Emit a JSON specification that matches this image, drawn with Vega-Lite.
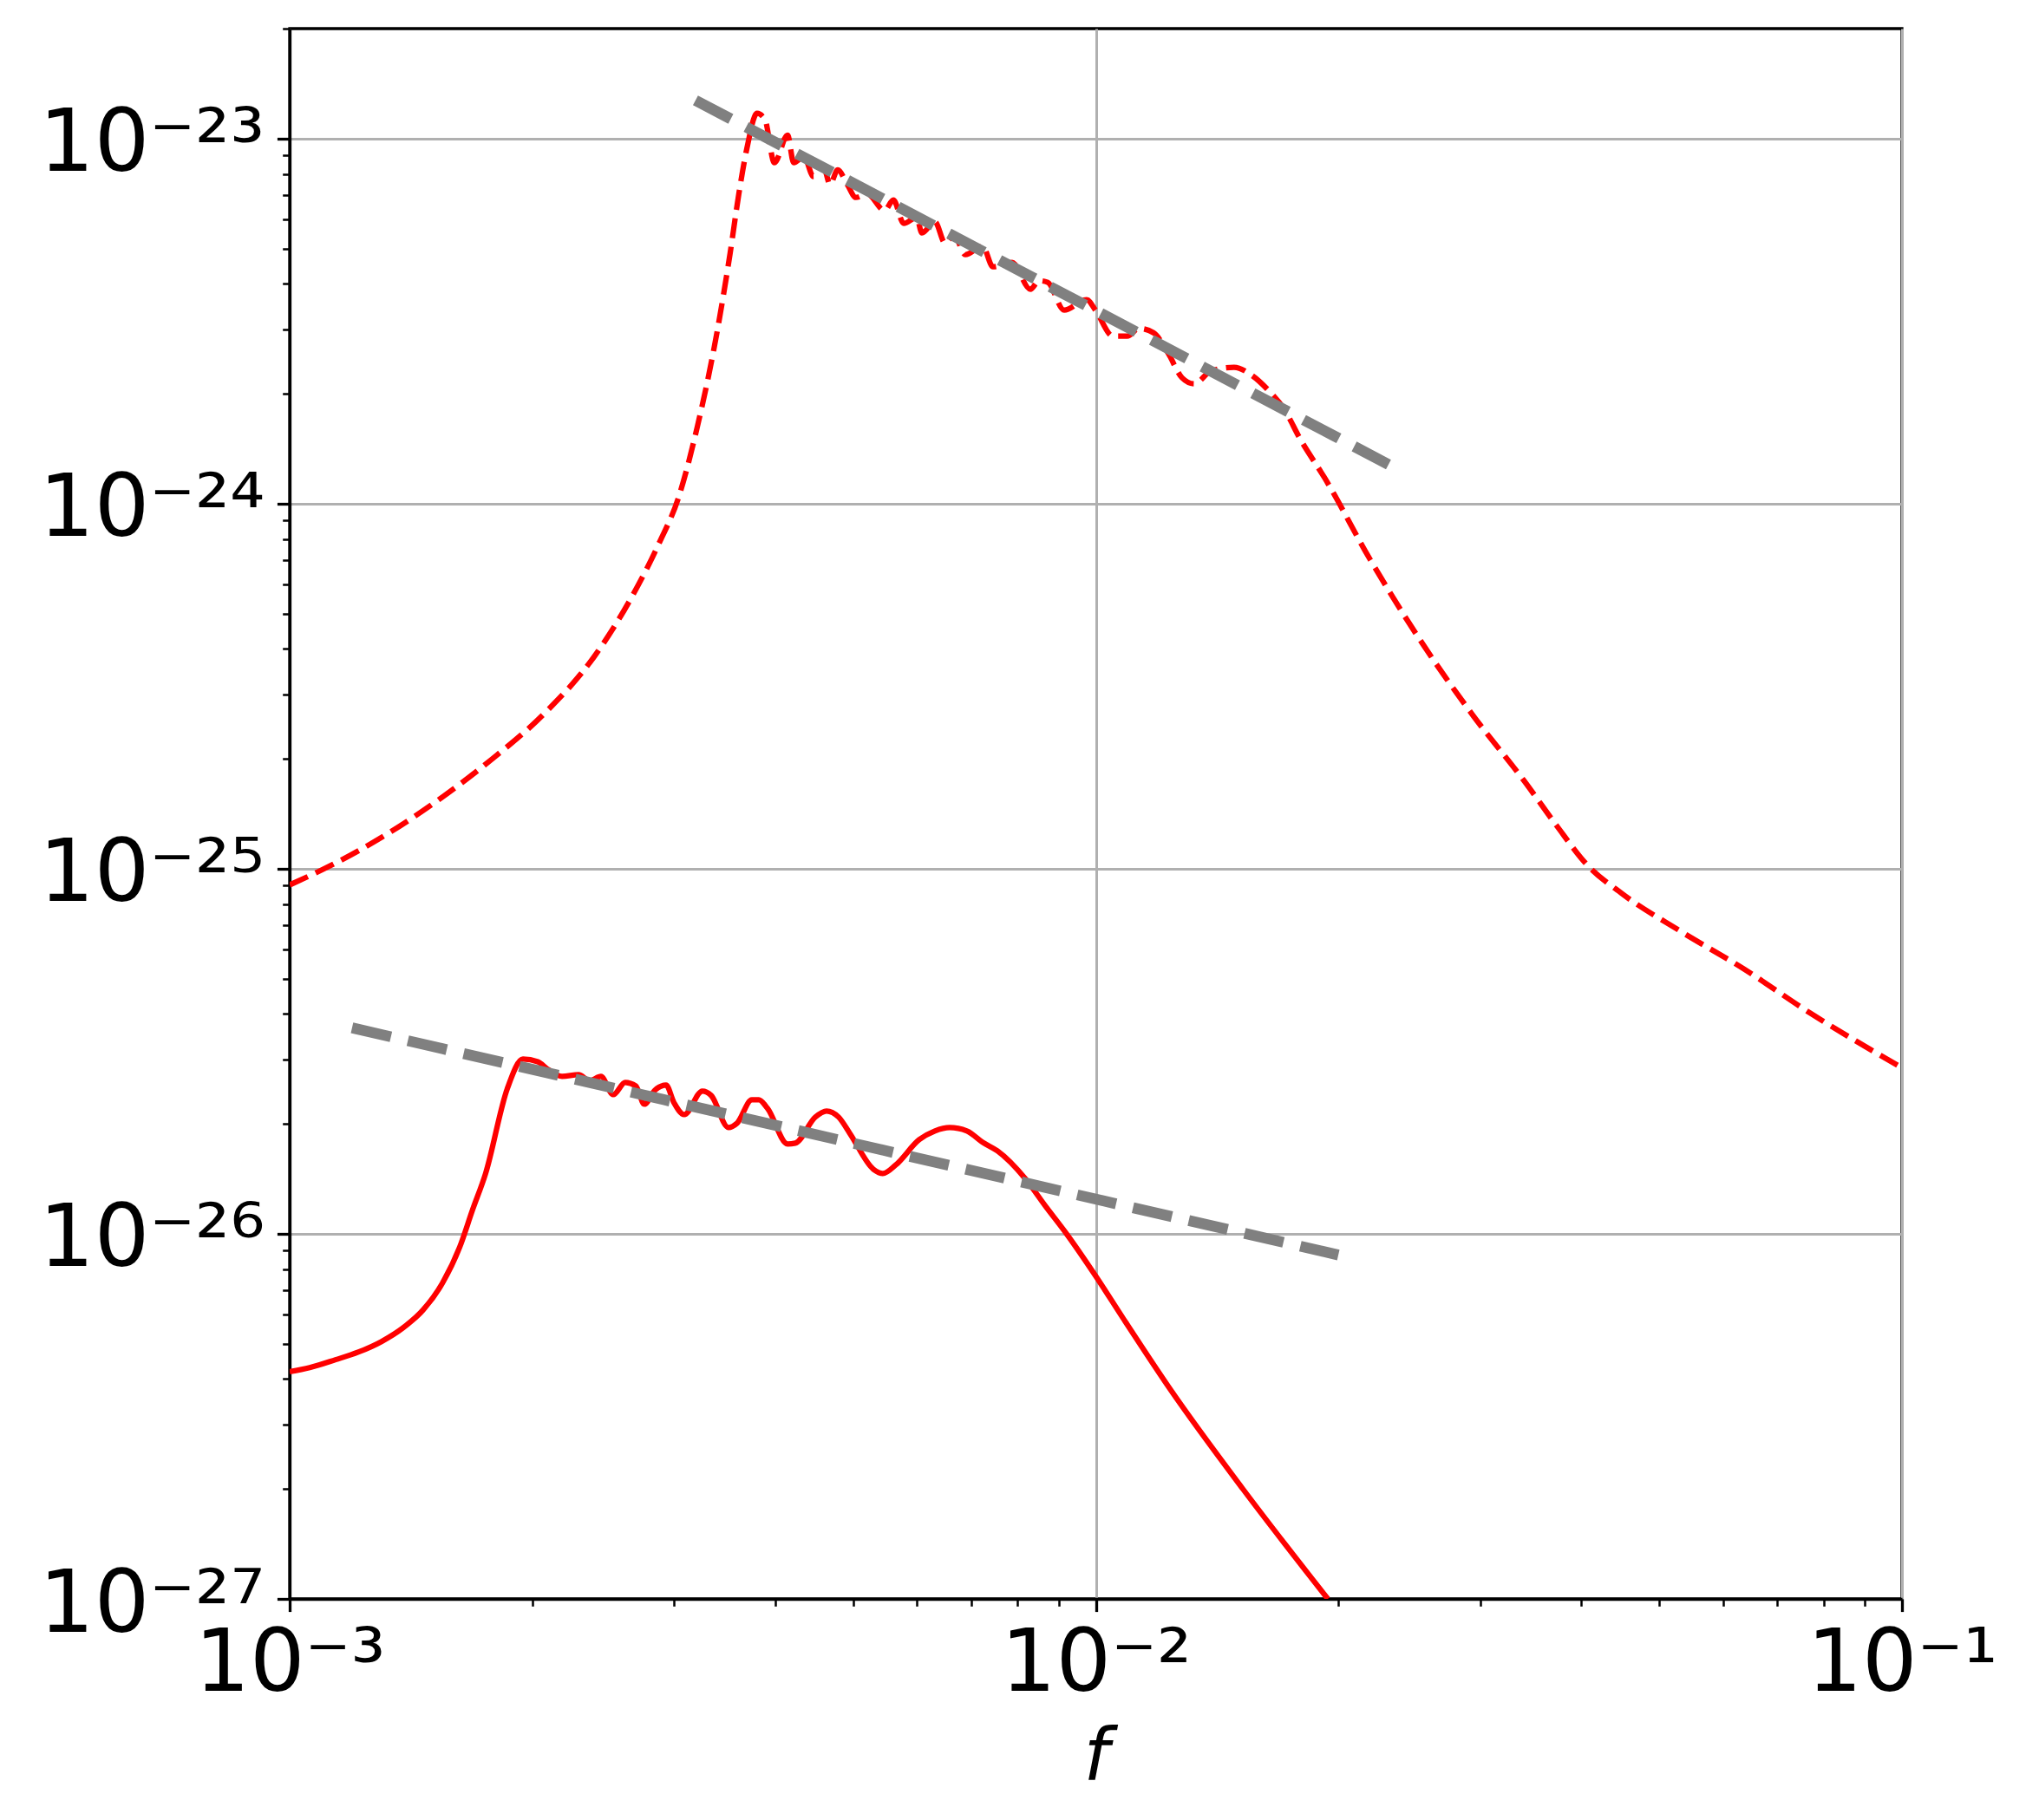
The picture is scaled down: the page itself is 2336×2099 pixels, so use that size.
{
  "$schema": "https://vega.github.io/schema/vega-lite/v6.json",
  "width": 1859,
  "height": 1811,
  "autosize": {"type": "none"},
  "padding": {"left": 334, "top": 33, "right": 143, "bottom": 255},
  "background": "white",
  "config": {
    "font": "DejaVu Sans",
    "view": {"stroke": "black", "strokeWidth": 3.3}
  },
  "datasets": {
    "upper": [
      {"f": 1.000e-3, "h": 9.03e-26},
      {"f": 1.140e-3, "h": 1.036e-25},
      {"f": 1.323e-3, "h": 1.247e-25},
      {"f": 1.535e-3, "h": 1.552e-25},
      {"f": 1.776e-3, "h": 1.984e-25},
      {"f": 2.061e-3, "h": 2.637e-25},
      {"f": 2.385e-3, "h": 3.804e-25},
      {"f": 2.667e-3, "h": 5.637e-25},
      {"f": 2.872e-3, "h": 7.785e-25},
      {"f": 3.034e-3, "h": 1.034e-24},
      {"f": 3.203e-3, "h": 1.620e-24},
      {"f": 3.393e-3, "h": 2.987e-24},
      {"f": 3.519e-3, "h": 4.86e-24},
      {"f": 3.607e-3, "h": 7.048e-24},
      {"f": 3.690e-3, "h": 9.365e-24},
      {"f": 3.800e-3, "h": 1.172e-23},
      {"f": 3.886e-3, "h": 1.128e-23},
      {"f": 3.993e-3, "h": 8.582e-24},
      {"f": 4.146e-3, "h": 1.022e-23},
      {"f": 4.219e-3, "h": 8.582e-24},
      {"f": 4.345e-3, "h": 8.917e-24},
      {"f": 4.465e-3, "h": 7.862e-24},
      {"f": 4.599e-3, "h": 8.303e-24},
      {"f": 4.680e-3, "h": 7.484e-24},
      {"f": 4.785e-3, "h": 8.21e-24},
      {"f": 4.917e-3, "h": 7.484e-24},
      {"f": 5.040e-3, "h": 6.896e-24},
      {"f": 5.205e-3, "h": 7.048e-24},
      {"f": 5.470e-3, "h": 6.354e-24},
      {"f": 5.608e-3, "h": 6.786e-24},
      {"f": 5.777e-3, "h": 5.854e-24},
      {"f": 5.995e-3, "h": 6.081e-24},
      {"f": 6.085e-3, "h": 5.511e-24},
      {"f": 6.315e-3, "h": 5.919e-24},
      {"f": 6.505e-3, "h": 5.161e-24},
      {"f": 6.669e-3, "h": 5.451e-24},
      {"f": 6.887e-3, "h": 4.807e-24},
      {"f": 7.237e-3, "h": 5.077e-24},
      {"f": 7.455e-3, "h": 4.453e-24},
      {"f": 7.873e-3, "h": 4.576e-24},
      {"f": 8.294e-3, "h": 3.864e-24},
      {"f": 8.502e-3, "h": 4.080e-24},
      {"f": 8.716e-3, "h": 4.036e-24},
      {"f": 9.136e-3, "h": 3.388e-24},
      {"f": 9.743e-3, "h": 3.618e-24},
      {"f": 9.990e-3, "h": 3.388e-24},
      {"f": 1.050e-2, "h": 2.875e-24},
      {"f": 1.094e-2, "h": 2.875e-24},
      {"f": 1.131e-2, "h": 3.020e-24},
      {"f": 1.179e-2, "h": 2.938e-24},
      {"f": 1.230e-2, "h": 2.577e-24},
      {"f": 1.279e-2, "h": 2.212e-24},
      {"f": 1.324e-2, "h": 2.129e-24},
      {"f": 1.391e-2, "h": 2.311e-24},
      {"f": 1.484e-2, "h": 2.362e-24},
      {"f": 1.560e-2, "h": 2.249e-24},
      {"f": 1.639e-2, "h": 2.038e-24},
      {"f": 1.709e-2, "h": 1.827e-24},
      {"f": 1.796e-2, "h": 1.492e-24},
      {"f": 1.921e-2, "h": 1.179e-24},
      {"f": 2.190e-2, "h": 7.019e-25},
      {"f": 2.535e-2, "h": 4.174e-25},
      {"f": 2.934e-2, "h": 2.637e-25},
      {"f": 3.404e-2, "h": 1.732e-25},
      {"f": 3.731e-2, "h": 1.31e-25},
      {"f": 4.059e-2, "h": 1.03e-25},
      {"f": 4.493e-2, "h": 8.55e-26},
      {"f": 5.302e-2, "h": 6.76e-26},
      {"f": 6.370e-2, "h": 5.31e-26},
      {"f": 7.672e-2, "h": 4.04e-26},
      {"f": 1.000e-1, "h": 2.85e-26}
    ],
    "lower": [
      {"f": 1.000e-3, "h": 4.19e-27},
      {"f": 1.059e-3, "h": 4.30e-27},
      {"f": 1.140e-3, "h": 4.52e-27},
      {"f": 1.216e-3, "h": 4.74e-27},
      {"f": 1.300e-3, "h": 5.07e-27},
      {"f": 1.383e-3, "h": 5.53e-27},
      {"f": 1.465e-3, "h": 6.20e-27},
      {"f": 1.546e-3, "h": 7.31e-27},
      {"f": 1.625e-3, "h": 9.19e-27},
      {"f": 1.686e-3, "h": 1.163e-26},
      {"f": 1.750e-3, "h": 1.463e-26},
      {"f": 1.862e-3, "h": 2.499e-26},
      {"f": 1.947e-3, "h": 3.010e-26},
      {"f": 2.031e-3, "h": 2.961e-26},
      {"f": 2.092e-3, "h": 2.818e-26},
      {"f": 2.177e-3, "h": 2.698e-26},
      {"f": 2.282e-3, "h": 2.728e-26},
      {"f": 2.356e-3, "h": 2.626e-26},
      {"f": 2.433e-3, "h": 2.698e-26},
      {"f": 2.519e-3, "h": 2.405e-26},
      {"f": 2.608e-3, "h": 2.598e-26},
      {"f": 2.687e-3, "h": 2.541e-26},
      {"f": 2.754e-3, "h": 2.265e-26},
      {"f": 2.837e-3, "h": 2.472e-26},
      {"f": 2.930e-3, "h": 2.555e-26},
      {"f": 2.996e-3, "h": 2.290e-26},
      {"f": 3.086e-3, "h": 2.121e-26},
      {"f": 3.251e-3, "h": 2.459e-26},
      {"f": 3.333e-3, "h": 2.393e-26},
      {"f": 3.502e-3, "h": 1.955e-26},
      {"f": 3.589e-3, "h": 2.009e-26},
      {"f": 3.744e-3, "h": 2.328e-26},
      {"f": 3.819e-3, "h": 2.328e-26},
      {"f": 3.915e-3, "h": 2.205e-26},
      {"f": 4.146e-3, "h": 1.762e-26},
      {"f": 4.239e-3, "h": 1.771e-26},
      {"f": 4.487e-3, "h": 2.087e-26},
      {"f": 4.634e-3, "h": 2.169e-26},
      {"f": 4.797e-3, "h": 2.087e-26},
      {"f": 4.955e-3, "h": 1.881e-26},
      {"f": 5.297e-3, "h": 1.503e-26},
      {"f": 5.443e-3, "h": 1.463e-26},
      {"f": 5.649e-3, "h": 1.545e-26},
      {"f": 6.039e-3, "h": 1.811e-26},
      {"f": 6.315e-3, "h": 1.913e-26},
      {"f": 6.586e-3, "h": 1.955e-26},
      {"f": 6.920e-3, "h": 1.913e-26},
      {"f": 7.237e-3, "h": 1.781e-26},
      {"f": 7.549e-3, "h": 1.687e-26},
      {"f": 8.174e-3, "h": 1.416e-26},
      {"f": 8.650e-3, "h": 1.195e-26},
      {"f": 9.204e-3, "h": 9.98e-27},
      {"f": 9.990e-3, "h": 7.68e-27},
      {"f": 1.081e-2, "h": 5.87e-27},
      {"f": 1.239e-2, "h": 3.73e-27},
      {"f": 1.522e-2, "h": 2.00e-27},
      {"f": 1.940e-2, "h": 1.00e-27}
    ],
    "fit_upper": [
      {"f": 3.187e-3, "h": 1.272e-23},
      {"f": 2.307e-2, "h": 1.280e-24}
    ],
    "fit_lower": [
      {"f": 1.195e-3, "h": 3.665e-26},
      {"f": 1.999e-2, "h": 8.752e-27}
    ]
  },
  "encoding": {
    "x": {
      "field": "f",
      "type": "quantitative",
      "scale": {"type": "log", "domain": [0.001, 0.1], "nice": false},
      "axis": {
        "title": "f",
        "titleFont": "DejaVu Sans",
        "titleFontSize": 83,
        "titleFontStyle": "italic",
        "titleFontWeight": "normal",
        "titleColor": "black",
        "titleBaseline": "alphabetic",
        "titleAlign": "center",
        "titleX": 929.5,
        "titleY": 208,
        "values": [0.001, 0.002, 0.003, 0.004, 0.005, 0.006, 0.007, 0.008, 0.009, 0.01, 0.02, 0.03, 0.04, 0.05, 0.06, 0.07, 0.08, 0.09, 0.1],
        "labelExpr": "abs(log(datum.value)/LN10 - round(log(datum.value)/LN10)) > 0.01 ? '' : round(log(datum.value)/LN10) == -3 ? '10⁻³' : round(log(datum.value)/LN10) == -2 ? '10⁻²' : '10⁻¹'",
        "labelFont": "DejaVu Sans",
        "labelFontSize": 100,
        "labelColor": "black",
        "labelBaseline": "alphabetic",
        "labelAlign": "center",
        "labelPadding": 91,
        "labelLimit": 0,
        "labelFlush": false,
        "labelOverlap": false,
        "labelBound": false,
        "domain": true,
        "domainColor": "black",
        "domainWidth": 3.3,
        "ticks": true,
        "tickColor": "black",
        "tickSize": {"condition": {"test": "abs(log(datum.value)/LN10 - round(log(datum.value)/LN10)) < 0.01", "value": 14.6}, "value": 8.3},
        "tickWidth": {"condition": {"test": "abs(log(datum.value)/LN10 - round(log(datum.value)/LN10)) < 0.01", "value": 3.3}, "value": 2.5},
        "grid": true,
        "gridColor": "#b0b0b0",
        "gridWidth": 3,
        "gridOpacity": {"condition": {"test": "abs(log(datum.value)/LN10 - round(log(datum.value)/LN10)) < 0.01", "value": 1}, "value": 0}
      }
    },
    "y": {
      "field": "h",
      "type": "quantitative",
      "scale": {"type": "log", "domain": [1e-27, 2e-23], "nice": false},
      "axis": {
        "title": null,
        "values": [1e-27, 2e-27, 3e-27, 4e-27, 5e-27, 6e-27, 7e-27, 8e-27, 9e-27, 1e-26, 2e-26, 3e-26, 4e-26, 5e-26, 6e-26, 7e-26, 8e-26, 9e-26, 1e-25, 2e-25, 3e-25, 4e-25, 5e-25, 6e-25, 7e-25, 8e-25, 9e-25, 1e-24, 2e-24, 3e-24, 4e-24, 5e-24, 6e-24, 7e-24, 8e-24, 9e-24, 1e-23, 2e-23],
        "labelExpr": "abs(log(datum.value)/LN10 - round(log(datum.value)/LN10)) > 0.01 ? '' : round(log(datum.value)/LN10) == -23 ? '10⁻²³' : round(log(datum.value)/LN10) == -24 ? '10⁻²⁴' : round(log(datum.value)/LN10) == -25 ? '10⁻²⁵' : round(log(datum.value)/LN10) == -26 ? '10⁻²⁶' : '10⁻²⁷'",
        "labelFont": "DejaVu Sans",
        "labelFontSize": 100,
        "labelColor": "black",
        "labelBaseline": "alphabetic",
        "labelAlign": "right",
        "labelOffset": 37,
        "labelPadding": 14.6,
        "labelLimit": 0,
        "labelFlush": false,
        "labelOverlap": false,
        "labelBound": false,
        "domain": true,
        "domainColor": "black",
        "domainWidth": 3.3,
        "ticks": true,
        "tickColor": "black",
        "tickSize": {"condition": {"test": "abs(log(datum.value)/LN10 - round(log(datum.value)/LN10)) < 0.01", "value": 14.6}, "value": 8.3},
        "tickWidth": {"condition": {"test": "abs(log(datum.value)/LN10 - round(log(datum.value)/LN10)) < 0.01", "value": 3.3}, "value": 2.5},
        "grid": true,
        "gridColor": "#b0b0b0",
        "gridWidth": 3,
        "gridOpacity": {"condition": {"test": "abs(log(datum.value)/LN10 - round(log(datum.value)/LN10)) < 0.01", "value": 1}, "value": 0}
      }
    }
  },
  "layer": [
    {
      "data": {"name": "upper"},
      "mark": {"type": "line", "color": "#ff0000", "strokeWidth": 6.25, "strokeDash": [23, 10], "strokeJoin": "round", "interpolate": "monotone", "clip": true},
      "encoding": {}
    },
    {
      "data": {"name": "lower"},
      "mark": {"type": "line", "color": "#ff0000", "strokeWidth": 6.25, "strokeJoin": "round", "interpolate": "monotone", "clip": true},
      "encoding": {}
    },
    {
      "data": {"name": "fit_upper"},
      "mark": {"type": "line", "color": "#808080", "strokeWidth": 12.5, "strokeDash": [46, 20], "clip": true},
      "encoding": {}
    },
    {
      "data": {"name": "fit_lower"},
      "mark": {"type": "line", "color": "#808080", "strokeWidth": 12.5, "strokeDash": [46, 20], "clip": true},
      "encoding": {}
    }
  ]
}
